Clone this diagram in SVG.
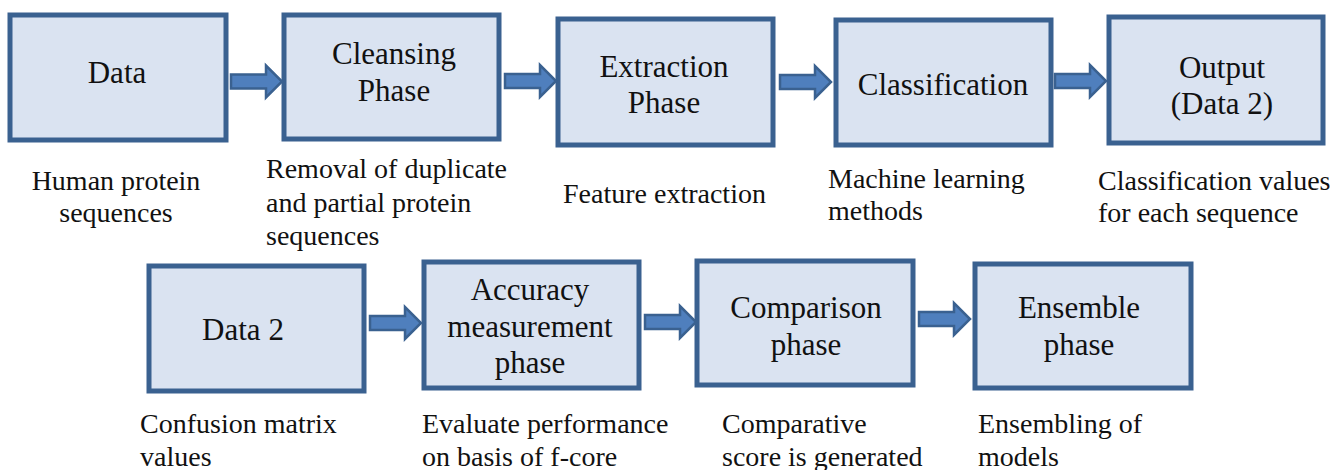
<svg xmlns="http://www.w3.org/2000/svg" width="1334" height="470" viewBox="0 0 1334 470">
<style>
.box{fill:#dae3f1;stroke:#3a6190;stroke-width:5}
.lbl{font-family:'Liberation Serif','Times New Roman',serif;font-size:31px;fill:#111;text-anchor:middle}
.cap{font-family:'Liberation Serif','Times New Roman',serif;font-size:28px;fill:#111}
.mid{text-anchor:middle}
.arr{fill:#4f7fbd;stroke:#3a6190;stroke-width:2.5;stroke-linejoin:miter}
</style>
<defs>
<path id="blk" d="M0,-7 H35 V-16 L51,0 L35,16 V7 H0 Z"/>
</defs>
<rect width="1334" height="470" fill="#ffffff"/>
<g id="n-data">
<rect class="box" x="10" y="15" width="216" height="125"/>
<text class="lbl" x="117" y="83">Data</text>
</g>
<g id="n-cleansing">
<rect class="box" x="284" y="15" width="215" height="124"/>
<text class="lbl" x="394" y="64">Cleansing</text>
<text class="lbl" x="394" y="101">Phase</text>
</g>
<g id="n-extraction">
<rect class="box" x="558" y="19" width="215" height="126"/>
<text class="lbl" x="664" y="77">Extraction</text>
<text class="lbl" x="664" y="113">Phase</text>
</g>
<g id="n-classification">
<rect class="box" x="836" y="20" width="215" height="125"/>
<text class="lbl" x="943" y="95">Classification</text>
</g>
<g id="n-output">
<rect class="box" x="1109" y="17" width="214" height="126"/>
<text class="lbl" x="1222" y="78">Output</text>
<text class="lbl" x="1222" y="114">(Data 2)</text>
</g>
<g id="n-data2">
<rect class="box" x="149" y="266" width="215" height="125"/>
<text class="lbl" x="243" y="340">Data 2</text>
</g>
<g id="n-accuracy">
<rect class="box" x="424" y="262" width="215" height="126"/>
<text class="lbl" x="530" y="300">Accuracy</text>
<text class="lbl" x="530" y="337">measurement</text>
<text class="lbl" x="530" y="373">phase</text>
</g>
<g id="n-comparison">
<rect class="box" x="697" y="261" width="216" height="124"/>
<text class="lbl" x="806" y="318">Comparison</text>
<text class="lbl" x="806" y="355">phase</text>
</g>
<g id="n-ensemble">
<rect class="box" x="975" y="264" width="216" height="124"/>
<text class="lbl" x="1079" y="318">Ensemble</text>
<text class="lbl" x="1079" y="355">phase</text>
</g>
<g id="captions">
<text class="cap mid" x="116" y="190">Human protein</text>
<text class="cap mid" x="116" y="222">sequences</text>
<text class="cap" x="266" y="178">Removal of duplicate</text>
<text class="cap" x="266" y="212">and partial protein</text>
<text class="cap" x="266" y="245">sequences</text>
<text class="cap" x="563" y="203">Feature extraction</text>
<text class="cap" x="828" y="188">Machine learning</text>
<text class="cap" x="828" y="220">methods</text>
<text class="cap" x="1098" y="190">Classification values</text>
<text class="cap" x="1098" y="222">for each sequence</text>
<text class="cap" x="140" y="433">Confusion matrix</text>
<text class="cap" x="140" y="466">values</text>
<text class="cap" x="422" y="433">Evaluate performance</text>
<text class="cap" x="422" y="466">on basis of f-core</text>
<text class="cap" x="722" y="433">Comparative</text>
<text class="cap" x="722" y="466">score is generated</text>
<text class="cap" x="978" y="433">Ensembling of</text>
<text class="cap" x="978" y="466">models</text>
</g>
<g id="connectors">
<use href="#blk" class="arr" transform="translate(231,81.5)"/>
<use href="#blk" class="arr" transform="translate(505,81)"/>
<use href="#blk" class="arr" transform="translate(780,82)"/>
<use href="#blk" class="arr" transform="translate(1055,81)"/>
<use href="#blk" class="arr" transform="translate(370,323)"/>
<use href="#blk" class="arr" transform="translate(645,322)"/>
<use href="#blk" class="arr" transform="translate(919,319)"/>
</g>
</svg>
